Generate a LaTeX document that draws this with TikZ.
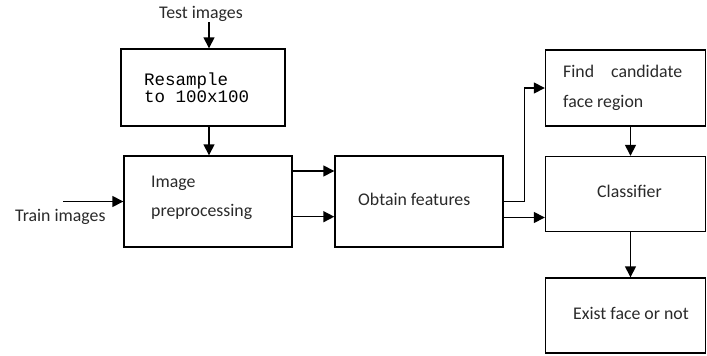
\documentclass[tikz,border=0pt]{standalone}
\usepackage{fontspec}
\setmainfont{Carlito}
\newfontfamily\codefont{Liberation Mono}
\usetikzlibrary{arrows.meta}
\definecolor{ink}{HTML}{2A2A2A}
\begin{document}
\begin{tikzpicture}[x=1pt,y=-1pt,
  box/.style={draw, line width=1.4pt, rectangle, inner sep=0pt},
  arr/.style={line width=1.5pt, -{Triangle[length=11pt,width=11pt]}},
  lbl/.style={font=\fontsize{17.8}{20}\selectfont, text=ink, inner sep=0pt, anchor=base west},
  code/.style={font=\codefont\fontsize{17.5}{20}\selectfont, inner sep=0pt, anchor=base west},
]
\useasboundingbox (0,0) rectangle (707,356);
\fill[white] (0,0) rectangle (707,356);

% processing blocks
\node[box, minimum width=164pt, minimum height=77pt] (res) at (203,87.5) {};
\node[box, minimum width=168pt, minimum height=91pt] (pre) at (208,201.5) {};
\node[box, minimum width=168pt, minimum height=91pt] (obt) at (419,201.5) {};
\node[box, minimum width=160pt, minimum height=76pt] (fnd) at (625.5,88) {};
\node[box, minimum width=160pt, minimum height=75pt] (cls) at (625.5,194) {};
\node[box, minimum width=160pt, minimum height=75pt] (ext) at (625.5,315.5) {};

% block texts
\node[code] (resA) at (144,85) {Resample};
\node[code] (resB) at (144,102.5) {to 100x100};
\node[lbl] (preA) at (151,187.5) {Image};
\node[lbl] (preB) at (151,216.5) {preprocessing};
\node[lbl] (obtA) at (358,205.5) {Obtain features};
\node[lbl] (fndA) at (563,77.5) {Find\hspace{17pt}candidate};
\node[lbl] (fndB) at (563,107) {face region};
\node[lbl] (clsA) at (597,197.5) {Classifier};
\node[lbl] (extA) at (573,319) {Exist face or not};

% inputs
\node[lbl] (test) at (159,18.3) {Test images};
\node[lbl] (train) at (15,221.5) {Train images};
\coordinate (tin) at (209,22);
\coordinate (trn) at (63,201.5);
\coordinate (cx) at (630.5,0);

% connectors
\draw[arr] (tin) -- (tin |- res.north);
\draw[arr] (res.south -| tin) -- (pre.north -| tin);
\draw[arr] (trn) -- (pre.west);
\draw[arr] ([yshift=30.5pt]pre.east) -- ([yshift=30.5pt]obt.west);
\draw[arr] ([yshift=-15.2pt]pre.east) -- ([yshift=-15.2pt]obt.west);
\draw[arr] (obt.east) -- ++(21,0) |- (fnd.west);
\path ([yshift=-16pt]obt.east) coordinate (o2);
\draw[arr] (o2) -- (o2 -| cls.west);
\draw[arr] (fnd.south -| cx) -- (cls.north -| cx);
\draw[arr] (cls.south -| cx) -- (ext.north -| cx);
\end{tikzpicture}
\end{document}
